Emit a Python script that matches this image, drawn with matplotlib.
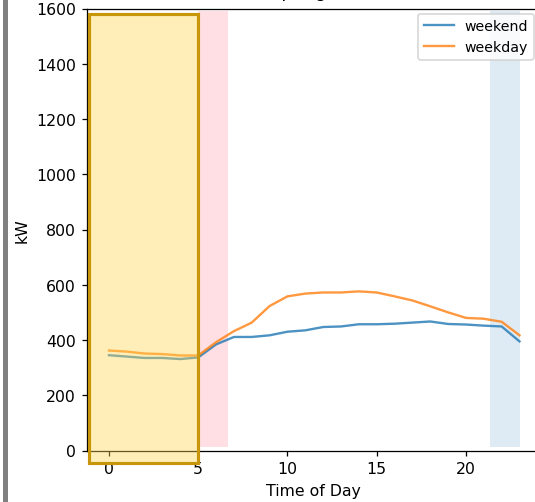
"""
Spring load profile: weekend vs weekday hourly average
"""

import matplotlib
matplotlib.use("Agg")
import matplotlib.pyplot as plt
from matplotlib.patches import Rectangle
import numpy as np

plt.rcParams['savefig.bbox'] = 'standard'

hours = list(range(24))
weekend = [345, 340, 335, 335, 331, 337, 384, 411, 411, 417, 430, 435,
           447, 449, 457, 457, 459, 463, 467, 458, 456, 452, 449, 395]
weekday = [362, 358, 351, 349, 344, 344, 392, 432, 463, 523, 558, 568,
           572, 572, 576, 572, 558, 543, 522, 500, 480, 477, 466, 417]

W, H, DPI = 535, 503, 113
PX_PER_HOUR = 17.85
fig = plt.figure(figsize=(W / DPI, H / DPI), dpi=DPI)
ax = fig.add_axes([87 / W, 1 - 451.5 / H, 453 / W, 442 / H])
ax.spines['right'].set_visible(False)

ax.axvspan(5, 6.67, ymin=0.007, ymax=0.994, color='pink', alpha=0.5, lw=0)
ax.axvspan(21.33, 23, ymin=0.007, ymax=0.994, color='tab:blue', alpha=0.14, lw=0)

ax.plot(hours, weekend, label='weekend', lw=1.5, alpha=0.8)
ax.plot(hours, weekday, label='weekday', lw=1.5, alpha=0.8)

ax.set_xlim(-1.23, -1.23 + 453 / PX_PER_HOUR)
ax.set_ylim(0, 1600)
ax.set_xticks([0, 5, 10, 15, 20])
ax.set_xlabel('Time of Day')
ax.set_ylabel('kW')
ax.set_title('2019 Spring - w/ load', fontsize=11, pad=8)
ax.legend(loc='upper right', bbox_to_anchor=(534 / W, 1 - 14.5 / H),
          bbox_transform=fig.transFigure, borderaxespad=0,
          fontsize=9, handlelength=2.1)

# highlighted night window
fig.patches.append(Rectangle((88.5 / W, 1 - 463.5 / H), 109.5 / W, 448.5 / H,
                             transform=fig.transFigure, facecolor='#ffd54f',
                             alpha=0.4, edgecolor='none', zorder=5))
fig.patches.append(Rectangle((88.5 / W, 1 - 463.5 / H), 109.5 / W, 448.5 / H,
                             transform=fig.transFigure, facecolor='none',
                             edgecolor='#c8960a', lw=2, zorder=6))
# window border on the left
fig.patches.append(Rectangle((3 / W, 0), 4.5 / W, 1, transform=fig.transFigure,
                             facecolor='#808080', edgecolor='none', zorder=6))

fig.savefig('out.png', dpi=DPI, bbox_inches=None)
